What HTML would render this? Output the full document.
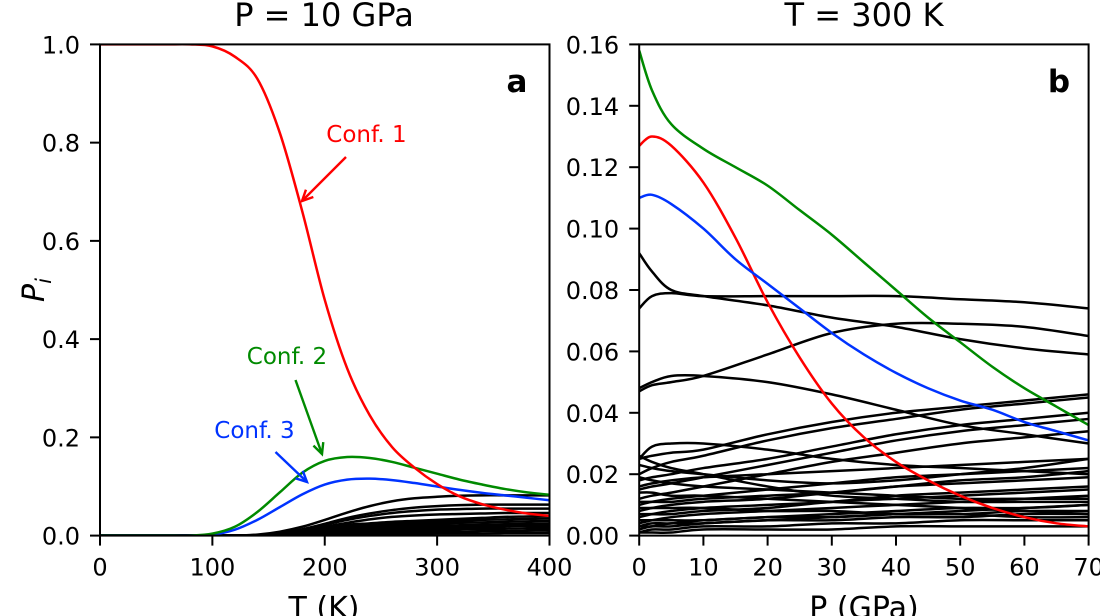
<!DOCTYPE html>
<html><head><meta charset="utf-8">
<style>
html,body{margin:0;padding:0;background:#fff;}
svg{display:block;font-family:"DejaVu Sans","Liberation Sans",sans-serif;}
</style></head>
<body>
<svg id="fig" width="1100" height="616" viewBox="0 0 1100 616"></svg>
<script>
// ---------- Panel a data (P = 10 GPa) ----------
const tempGrid = [0,20,40,60,80,100,120,140,160,180,200,220,240,260,280,300,320,340,360,380,400];
const conf1A = [1,1,1,1,1,0.996,0.975,0.93,0.82,0.66,0.48,0.34,0.245,0.18,0.138,0.105,0.08,0.064,0.053,0.045,0.04];
const conf2A = [0,0,0,0,0,0.004,0.018,0.048,0.088,0.128,0.152,0.16,0.158,0.15,0.138,0.126,0.114,0.104,0.095,0.088,0.083];
const conf3A = [0,0,0,0,0,0.002,0.012,0.032,0.058,0.084,0.104,0.114,0.116,0.113,0.107,0.1,0.093,0.087,0.082,0.077,0.072];
const blackA = [
 [0,0,0,0,0,0,0,0.002,0.008,0.018,0.032,0.047,0.06,0.07,0.076,0.079,0.081,0.082,0.082,0.082,0.082],
 [0,0,0,0,0,0,0,0.001,0.005,0.013,0.024,0.036,0.045,0.052,0.057,0.06,0.062,0.063,0.063,0.063,0.063],
 [0,0,0,0,0,0,0,0.001,0.005,0.012,0.022,0.032,0.04,0.046,0.05,0.053,0.054,0.055,0.055,0.055,0.055],
 [0,0,0,0,0,0,0,0.001,0.004,0.01,0.018,0.026,0.033,0.038,0.041,0.043,0.044,0.045,0.046,0.046,0.046],
 [0,0,0,0,0,0,0,0.001,0.004,0.01,0.017,0.022,0.025,0.028,0.03,0.032,0.034,0.036,0.038,0.039,0.04],
 [0,0,0,0,0,0,0,0.001,0.003,0.008,0.013,0.018,0.021,0.024,0.026,0.028,0.03,0.032,0.033,0.034,0.035],
 [0,0,0,0,0,0,0,0.001,0.003,0.006,0.01,0.014,0.017,0.02,0.022,0.024,0.026,0.027,0.028,0.029,0.03],
 [0,0,0,0,0,0,0,0,0.002,0.004,0.008,0.011,0.014,0.016,0.018,0.02,0.021,0.022,0.023,0.024,0.025],
 [0,0,0,0,0,0,0,0,0.001,0.003,0.006,0.008,0.011,0.013,0.014,0.016,0.017,0.018,0.019,0.02,0.02],
 [0,0,0,0,0,0,0,0,0.001,0.002,0.004,0.006,0.008,0.009,0.011,0.012,0.013,0.014,0.014,0.015,0.015],
 [0,0,0,0,0,0,0,0,0,0.001,0.002,0.004,0.005,0.006,0.007,0.008,0.008,0.009,0.009,0.01,0.01],
 [0,0,0,0,0,0,0,0,0,0.001,0.001,0.002,0.002,0.003,0.003,0.004,0.004,0.004,0.005,0.005,0.005]
];
const yTicksA = [0.0,0.2,0.4,0.6,0.8,1.0];
const xTicksA = [0,100,200,300,400];

// ---------- Panel b data (T = 300 K) ----------
const presGrid = [0,2,5,10,15,20,25,30,35,40,45,50,55,60,65,70];
const conf2B = [0.158,0.145,0.134,0.126,0.12,0.114,0.106,0.098,0.089,0.08,0.071,0.063,0.055,0.048,0.042,0.036];
const conf1B = [0.127,0.13,0.127,0.115,0.097,0.076,0.058,0.043,0.032,0.024,0.018,0.013,0.009,0.006,0.004,0.003];
const conf3B = [0.11,0.111,0.108,0.1,0.09,0.082,0.074,0.066,0.059,0.053,0.048,0.044,0.041,0.037,0.034,0.031];
const presGridB = [0,2,5,10,20,30,40,50,60,70];
const blackB = [
 [0.092,0.086,0.08,0.078,0.075,0.071,0.068,0.064,0.061,0.059],
 [0.074,0.078,0.079,0.078,0.078,0.078,0.078,0.077,0.076,0.074],
 [0.047,0.049,0.05,0.052,0.059,0.066,0.069,0.069,0.068,0.065],
 [0.048,0.05,0.052,0.052,0.05,0.046,0.041,0.036,0.033,0.03],
 [0.025,0.026,0.027,0.028,0.033,0.037,0.04,0.042,0.044,0.046],
 [0.025,0.029,0.03,0.03,0.028,0.025,0.023,0.022,0.021,0.02],
 [0.02,0.022,0.024,0.026,0.031,0.035,0.038,0.041,0.043,0.045],
 [0.018,0.019,0.02,0.022,0.025,0.029,0.033,0.036,0.038,0.04],
 [0.015,0.016,0.017,0.019,0.023,0.027,0.031,0.034,0.036,0.038],
 [0.012,0.013,0.014,0.016,0.02,0.024,0.027,0.03,0.032,0.034],
 [0.023,0.022,0.021,0.02,0.018,0.017,0.018,0.02,0.022,0.025],
 [0.026,0.024,0.022,0.02,0.016,0.013,0.012,0.011,0.011,0.011],
 [0.01,0.011,0.012,0.013,0.015,0.017,0.019,0.02,0.021,0.022],
 [0.008,0.009,0.01,0.011,0.012,0.014,0.016,0.017,0.018,0.019],
 [0.006,0.007,0.008,0.009,0.01,0.011,0.013,0.014,0.015,0.016],
 [0.004,0.005,0.006,0.007,0.008,0.009,0.01,0.011,0.012,0.013],
 [0.003,0.004,0.004,0.005,0.006,0.007,0.008,0.009,0.009,0.01],
 [0.002,0.003,0.003,0.004,0.005,0.006,0.007,0.007,0.008,0.008],
 [0.009,0.009,0.009,0.009,0.008,0.008,0.007,0.007,0.006,0.006],
 [0.001,0.002,0.002,0.003,0.003,0.004,0.004,0.005,0.005,0.005],
 [0.014,0.014,0.013,0.013,0.012,0.011,0.01,0.009,0.008,0.007],
 [0.001,0.001,0.001,0.002,0.002,0.002,0.003,0.003,0.003,0.003],
 [0.019,0.018,0.017,0.016,0.015,0.014,0.013,0.012,0.012,0.012],
 [0.011,0.011,0.011,0.012,0.013,0.014,0.016,0.018,0.019,0.021],
 [0.007,0.007,0.007,0.008,0.009,0.011,0.012,0.013,0.014,0.015],
 [0.005,0.005,0.005,0.005,0.006,0.006,0.007,0.008,0.009,0.01],
 [0.016,0.017,0.018,0.019,0.02,0.021,0.022,0.023,0.024,0.025],
 [0.003,0.003,0.004,0.004,0.005,0.005,0.006,0.006,0.007,0.007]
];
const yTicksB = [0.00,0.02,0.04,0.06,0.08,0.10,0.12,0.14,0.16];
const xTicksB = [0,10,20,30,40,50,60,70];

const NS = "http://www.w3.org/2000/svg";
const svg = document.getElementById('fig');
function mk(tag, attrs, parent){
  const e = document.createElementNS(NS, tag);
  for (const k in attrs) e.setAttribute(k, attrs[k]);
  (parent||svg).appendChild(e);
  return e;
}
function smoothPath(pts){
  let d = `M${pts[0][0].toFixed(2)},${pts[0][1].toFixed(2)}`;
  for (let i=0;i<pts.length-1;i++){
    const p0=pts[Math.max(0,i-1)], p1=pts[i], p2=pts[i+1], p3=pts[Math.min(pts.length-1,i+2)];
    const c1x=p1[0]+(p2[0]-p0[0])/6, c1y=p1[1]+(p2[1]-p0[1])/6;
    const c2x=p2[0]-(p3[0]-p1[0])/6, c2y=p2[1]-(p3[1]-p1[1])/6;
    d += ` C${c1x.toFixed(2)},${c1y.toFixed(2)} ${c2x.toFixed(2)},${c2y.toFixed(2)} ${p2[0].toFixed(2)},${p2[1].toFixed(2)}`;
  }
  return d;
}

function panel(cfg){
  const {x0,x1,y0,y1,xmin,xmax,ymin,ymax} = cfg;
  const sx = v => x0 + (v-xmin)/(xmax-xmin)*(x1-x0);
  const sy = v => y1 - (v-ymin)/(ymax-ymin)*(y1-y0);
  const g = mk('g', {});
  
  
  const clipId = cfg.name+'-clip';
  const cp = mk('clipPath', {id:clipId}, g);
  mk('rect', {x:x0,y:y0,width:x1-x0,height:y1-y0}, cp);
  const lines = mk('g', {'clip-path':`url(#${clipId})`}, g);
  
  
  cfg.series.forEach(s => {
    const pts = s.xs.map((x,i)=>[sx(x), sy(s.ys[i])]);
    const p = mk('path', {d:smoothPath(pts), fill:'none', stroke:s.color, 'stroke-width':2.5, 'stroke-linejoin':'round'}, lines);
    
    
  });
  const frame = mk('rect', {x:x0,y:y0,width:x1-x0,height:y1-y0,fill:'none',stroke:'#000','stroke-width':2}, g);
  
  
  cfg.xticks.forEach(t => {
    const X = sx(t);
    mk('line', {x1:X,x2:X,y1:y1,y2:y1+10,stroke:'#000','stroke-width':2}, g);
    const tx = mk('text', {x:X,y:y1+40,'text-anchor':'middle','font-size':24,fill:'#000'}, g);
    tx.textContent = String(t);
    
    
  });
  cfg.yticks.forEach(t => {
    const Y = sy(t);
    mk('line', {x1:x0-10,x2:x0,y1:Y,y2:Y,stroke:'#000','stroke-width':2}, g);
    const tx = mk('text', {x:x0-20,y:Y+9,'text-anchor':'end','font-size':24,fill:'#000'}, g);
    tx.textContent = t.toFixed(cfg.ydec);
    
    
  });
  return {sx, sy};
}

function seriesFrom(xs, arr, color, name){ return {xs, ys:arr, color, name}; }

const seriesA = [];
blackA.forEach((a,i)=>seriesA.push(seriesFrom(tempGrid,a,'#000','black-curve-a-'+i)));
seriesA.push(seriesFrom(tempGrid,conf3A,'#0033ff','conf3-curve-a'));
seriesA.push(seriesFrom(tempGrid,conf2A,'#008a00','conf2-curve-a'));
seriesA.push(seriesFrom(tempGrid,conf1A,'#ff0000','conf1-curve-a'));
panel({name:'panel-a',x0:100,x1:549.5,y0:44.4,y1:535.6,xmin:0,xmax:400,ymin:0,ymax:1,
  xticks:xTicksA,yticks:yTicksA,ydec:1,series:seriesA});

const seriesB = [];
blackB.forEach((a,i)=>seriesB.push(seriesFrom(presGridB,a,'#000','black-curve-b-'+i)));
seriesB.push(seriesFrom(presGrid,conf1B,'#ff0000','conf1-curve-b'));
seriesB.push(seriesFrom(presGrid,conf3B,'#0033ff','conf3-curve-b'));
seriesB.push(seriesFrom(presGrid,conf2B,'#008a00','conf2-curve-b'));
panel({name:'panel-b',x0:639.2,x1:1088.6,y0:44.4,y1:535.6,xmin:0,xmax:70,ymin:0,ymax:0.16,
  xticks:xTicksB,yticks:yTicksB,ydec:2,series:seriesB});

function txt(x,y,s,attrs,name){
  const t = mk('text', Object.assign({x,y},attrs));
  t.textContent = s;
  
  
  return t;
}
txt(324,26,'P = 10 GPa',{'text-anchor':'middle','font-size':32},'title-a');
txt(864,26,'T = 300 K',{'text-anchor':'middle','font-size':32},'title-b');
txt(324,618,'T (K)',{'text-anchor':'middle','font-size':30},'x-axis-title-a');
txt(864,618,'P (GPa)',{'text-anchor':'middle','font-size':30},'x-axis-title-b');
const yl = txt(0,0,'P',{'font-size':30,'font-style':'italic','text-anchor':'middle',transform:'translate(44,290) rotate(-90)'},'y-axis-title');
const sub = mk('tspan',{'font-size':21,dy:7},yl); sub.textContent='i';
txt(517,92,'a',{'text-anchor':'middle','font-size':31,'font-weight':'bold'},'panel-label-a');
txt(1059,92,'b',{'text-anchor':'middle','font-size':31,'font-weight':'bold'},'panel-label-b');

// annotations
function arrow(xa,ya,xb,yb,color,name){
  const g = mk('g',{});
  
  
  mk('line',{x1:xa,y1:ya,x2:xb,y2:yb,stroke:color,'stroke-width':2.4},g);
  const ang = Math.atan2(yb-ya,xb-xa), L=12, W=0.45;
  const p1=[xb-L*Math.cos(ang-W), yb-L*Math.sin(ang-W)];
  const p2=[xb-L*Math.cos(ang+W), yb-L*Math.sin(ang+W)];
  mk('polyline',{points:`${p1} ${xb},${yb} ${p2}`,fill:'none',stroke:color,'stroke-width':2.4},g);
}
txt(366.5,142,'Conf. 1',{'text-anchor':'middle','font-size':23,fill:'#ff0000'},'conf1-label');
arrow(346,157,302,201,'#ff0000','conf1-arrow');
txt(287,364,'Conf. 2',{'text-anchor':'middle','font-size':23,fill:'#008a00'},'conf2-label');
arrow(295.5,380,322,454,'#008a00','conf2-arrow');
txt(254.5,438,'Conf. 3',{'text-anchor':'middle','font-size':23,fill:'#0033ff'},'conf3-label');
arrow(275.5,452,307,482,'#0033ff','conf3-arrow');
</script>
</body></html>
